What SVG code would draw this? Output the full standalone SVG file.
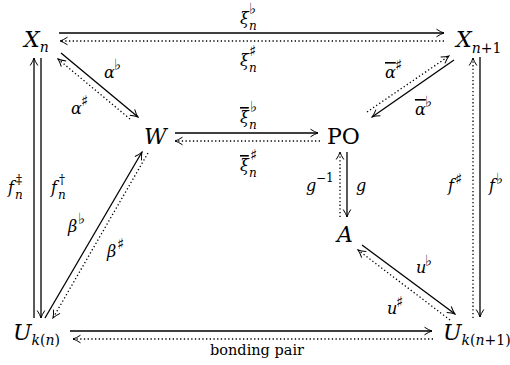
<svg xmlns="http://www.w3.org/2000/svg" width="510" height="365" viewBox="0 0 510 365" font-family="'DejaVu Serif', serif">
<style>
.nd{font-size:22px;font-style:italic}
.rm{font-style:normal}
.sb{font-size:14px}
.lb{font-size:16px;font-style:italic}
.sp{font-size:12px;font-style:normal}
.mu{font-size:15px;font-style:normal}
.sn{font-size:12px;font-style:italic}
.ov{text-decoration:overline}
.s{fill:none;stroke:#000;stroke-width:1.3;marker-end:url(#ah)}
.d{fill:none;stroke:#000;stroke-width:1.3;stroke-dasharray:1.3 2.4;marker-end:url(#ah)}
</style>
<defs>
<marker id="ah" viewBox="-9 -5 10 10" refX="0" refY="0" markerWidth="10" markerHeight="10" markerUnits="userSpaceOnUse" orient="auto">
<path d="M-7.5,-3.8 Q-3,-0.8 0,0 Q-3,0.8 -7.5,3.8" fill="none" stroke="#000" stroke-width="1" stroke-dasharray="none"/>
</marker>
</defs>
<g id="connectors">
<path class="s" d="M59,33 H444"/>
<path class="d" d="M444,41 H60"/>
<path class="s" d="M61,53 L138,117"/>
<path class="d" d="M130,119 L58,59"/>
<path class="s" d="M454,60 L372,117"/>
<path class="d" d="M367,112 L449,56"/>
<path class="s" d="M175,133 H318"/>
<path class="d" d="M320,141 H175"/>
<path class="d" d="M340,217 V152"/>
<path class="s" d="M347,152 V217"/>
<path class="s" d="M362,245 L455,314"/>
<path class="d" d="M450,320 L358,250"/>
<path class="s" d="M45,318 L142,152"/>
<path class="d" d="M148,153 L53,318"/>
<path class="s" d="M34,318 V58"/>
<path class="s" d="M41,58 V318"/>
<path class="d" d="M473,318 V58"/>
<path class="s" d="M480,57 V317"/>
<path class="s" d="M70,331 H432"/>
<path class="d" d="M433,339 H73"/>
</g>
<g id="labels">
<text class="lb" x="240" y="24">ξ</text><text class="mu" x="249" y="14">♭</text><text class="sn" x="249" y="30">n</text>
<text class="lb" x="240" y="66">ξ</text><text class="mu" x="249" y="56">♯</text><text class="sn" x="249" y="72">n</text>
<text class="lb" x="104" y="78">α</text><text class="mu" x="114" y="70">♭</text>
<text class="lb" x="71" y="114">α</text><text class="mu" x="81" y="106">♯</text>
<text class="lb" x="240" y="123"><tspan class="ov">ξ</tspan></text><text class="mu" x="250" y="112">♭</text><text class="sn" x="249" y="129">n</text>
<text class="lb" x="240" y="171"><tspan class="ov">ξ</tspan></text><text class="mu" x="250" y="160">♯</text><text class="sn" x="249" y="177">n</text>
<text class="lb" x="385" y="78"><tspan class="ov">α</tspan></text><text class="mu" x="395" y="70">♯</text>
<text class="lb" x="415" y="115"><tspan class="ov">α</tspan></text><text class="mu" x="425" y="107">♭</text>
<text class="lb" x="8" y="193">f</text><text class="sp" x="16" y="184">‡</text><text class="sn" x="15" y="199">n</text>
<text class="lb" x="51" y="193">f</text><text class="sp" x="59" y="184">†</text><text class="sn" x="58" y="199">n</text>
<text class="lb" x="68" y="232">β</text><text class="mu" x="78" y="224">♭</text>
<text class="lb" x="107" y="257">β</text><text class="mu" x="117" y="249">♯</text>
<text class="lb" x="306" y="191">g</text><text class="sp" x="316" y="182">−1</text>
<text class="lb" x="356" y="191">g</text>
<text class="lb" x="448" y="191">f</text><text class="mu" x="455" y="184">♯</text>
<text class="lb" x="489" y="191">f</text><text class="mu" x="496" y="184">♭</text>
<text class="lb" x="416" y="273">u</text><text class="mu" x="425" y="266">♭</text>
<text class="lb" x="387" y="314">u</text><text class="mu" x="396" y="307">♯</text>
<text x="257" y="355" font-size="14.5" text-anchor="middle">bonding pair</text>
</g>
<g id="node-Xn"><text class="nd" x="24" y="47">X<tspan class="sb" dy="5">n</tspan></text></g>
<g id="node-Xn1"><text class="nd" x="456" y="47">X<tspan class="sb" font-size="13" dy="6">n<tspan class="rm">+1</tspan></tspan></text></g>
<g id="node-W"><text class="nd" x="144" y="144">W</text></g>
<g id="node-PO"><text class="nd rm" x="327" y="144">PO</text></g>
<g id="node-A"><text class="nd" x="337" y="242">A</text></g>
<g id="node-Ukn"><text class="nd" x="13" y="340">U<tspan class="sb" dy="5">k<tspan class="rm">(</tspan>n<tspan class="rm">)</tspan></tspan></text></g>
<g id="node-Ukn1"><text class="nd" x="443" y="340">U<tspan class="sb" font-size="13" dy="5">k<tspan class="rm">(</tspan>n<tspan class="rm">+1)</tspan></tspan></text></g>
</svg>
